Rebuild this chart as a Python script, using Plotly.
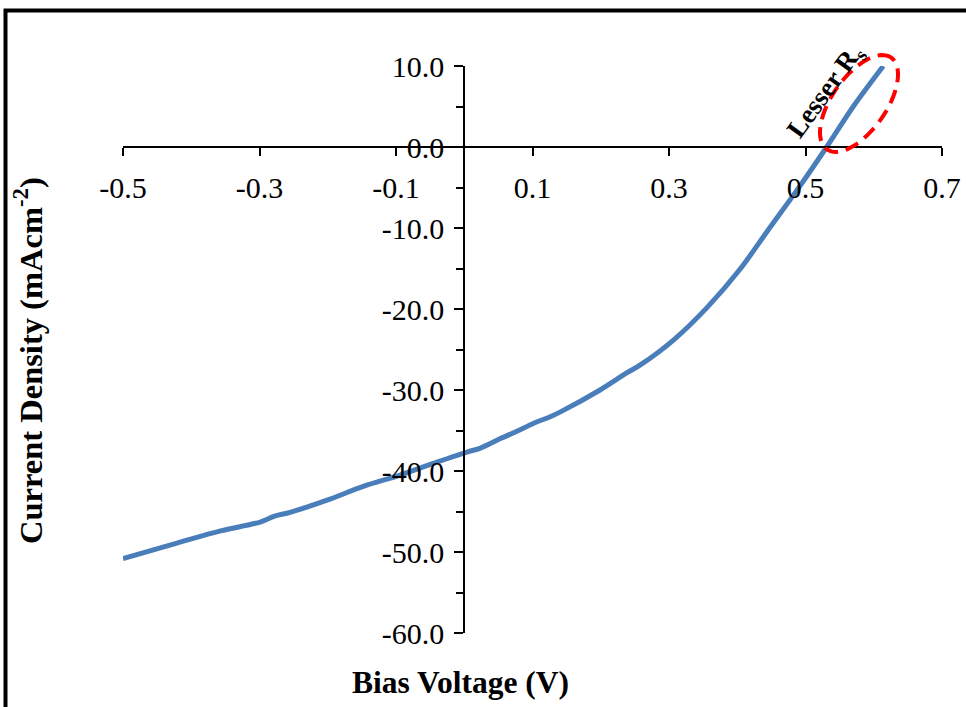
import numpy as np
import plotly.graph_objects as go

# ---- data ----
voltage = [-0.500, -0.421, -0.357, -0.299, -0.279, -0.255, -0.201, -0.148, -0.094,
           -0.040, 0.006, 0.023, 0.053, 0.077, 0.102, 0.126, 0.141, 0.199, 0.238,
           0.258, 0.307, 0.356, 0.404, 0.444, 0.492, 0.531, 0.570, 0.614]
current = [-50.8, -48.9, -47.4, -46.3, -45.6, -45.1, -43.6, -41.9, -40.5,
           -38.9, -37.6, -37.2, -36.0, -35.1, -34.1, -33.3, -32.7, -30.0, -27.9,
           -26.9, -23.8, -19.8, -15.1, -10.4, -4.8, 0.0, 5.0, 10.0]
x_ticks = [-0.5, -0.3, -0.1, 0.1, 0.3, 0.5, 0.7]
y_ticks = [10, 0, -10, -20, -30, -40, -50, -60]
y_minor = [5, -5, -15, -25, -35, -45, -55]
x_title = "Bias Voltage (V)"
y_title = "Current Density (mAcm<sup>-2</sup>)"
note_text = "Lesser R<sub>s</sub>"

# ---- layout geometry ----
W, H = 966, 707
ML, MR, MT, MB = 123, 24, 66, 74
XR = [-0.5, 0.7]
YR = [-60, 10]
pw, ph = W - ML - MR, H - MT - MB

def px2paper(px, py):
    return (px - ML) / pw, (H - MB - py) / ph

SERIF = "Liberation Serif"

fig = go.Figure()
fig.add_trace(go.Scatter(x=voltage, y=current, mode="lines",
                         line=dict(color="#4A7EBB", width=5, shape="spline", smoothing=0.9),
                         showlegend=False, hoverinfo="x+y"))

tickfont = dict(family=SERIF, size=30, color="black")
fig.update_layout(
    width=W, height=H, margin=dict(l=ML, r=MR, t=MT, b=MB, autoexpand=False),
    paper_bgcolor="white", plot_bgcolor="white", showlegend=False,
    xaxis=dict(range=XR, anchor="free", position=(0 - YR[0]) / (YR[1] - YR[0]),
               domain=[0, 1], automargin=False,
               tickmode="array", tickvals=x_ticks, ticktext=[f"{v:.1f}" for v in x_ticks],
               ticks="outside", ticklen=8, tickwidth=2, tickcolor="black",
               showline=True, linecolor="black", linewidth=2,
               showgrid=False, zeroline=False, tickfont=tickfont, ticklabelstandoff=6),
    yaxis=dict(range=YR, anchor="free", position=(0 - XR[0]) / (XR[1] - XR[0]),
               domain=[0, 1], automargin=False,
               tickmode="array", tickvals=y_ticks, ticktext=[f"{v:.1f}" for v in y_ticks],
               ticks="outside", ticklen=9, tickwidth=2, tickcolor="black",
               minor=dict(tickmode="array", tickvals=y_minor,
                          ticks="outside", ticklen=7, tickwidth=2, tickcolor="black"),
               showline=True, linecolor="black", linewidth=2,
               showgrid=False, zeroline=False, tickfont=tickfont, ticklabelstandoff=4),
)

tx, ty = px2paper(460, 683)
fig.add_annotation(text="<b>" + x_title + "</b>", x=tx, y=ty, xref="paper", yref="paper",
                   showarrow=False, font=dict(family=SERIF, size=31.5, color="black"),
                   xanchor="center", yanchor="middle")
tx, ty = px2paper(28, 361)
fig.add_annotation(text="<b>" + y_title + "</b>", x=tx, y=ty, xref="paper", yref="paper",
                   showarrow=False, font=dict(family=SERIF, size=32.5, color="black"),
                   textangle=-90, xanchor="center", yanchor="middle")

# note text
nx, ny = px2paper(826, 92)
fig.add_annotation(text="<b>" + note_text + "</b>", x=nx, y=ny, xref="paper", yref="paper",
                   showarrow=False, textangle=-54,
                   font=dict(family=SERIF, size=27, color="black"),
                   xanchor="center", yanchor="middle")

# dashed red ellipse (rotated), built in pixel space then mapped to paper coords
cx, cy, a, b, ang = 859, 103.5, 56, 27, np.deg2rad(55)
t = np.linspace(0, 2 * np.pi, 90)
ex = cx + a * np.cos(t) * np.cos(ang) - b * np.sin(t) * np.sin(ang)
ey = cy - (a * np.cos(t) * np.sin(ang) + b * np.sin(t) * np.cos(ang))
pts = [px2paper(u, v) for u, v in zip(ex, ey)]
path = "M " + " L ".join(f"{u:.5f},{v:.5f}" for u, v in pts) + " Z"
fig.add_shape(type="path", path=path, xref="paper", yref="paper",
              line=dict(color="#FF0000", width=4, dash="14px,8px"), layer="above")

# outer frame
x0, y1 = px2paper(5.5, 10.5)
x1, y0 = px2paper(972, 715)
fig.add_shape(type="rect", xref="paper", yref="paper", x0=x0, x1=x1, y0=y0, y1=y1,
              line=dict(color="black", width=4), layer="above")

fig.write_html("out.html")
